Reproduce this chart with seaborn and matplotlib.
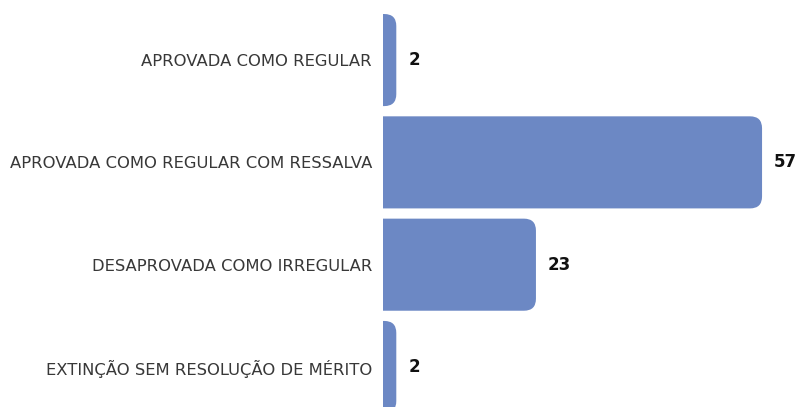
import matplotlib
matplotlib.use("Agg")
import matplotlib.pyplot as plt
import seaborn as sns
import pandas as pd
from matplotlib.patches import FancyBboxPatch

categories = [
    "APROVADA COMO REGULAR",
    "APROVADA COMO REGULAR COM RESSALVA",
    "DESAPROVADA COMO IRREGULAR",
    "EXTINÇÃO SEM RESOLUÇÃO DE MÉRITO",
]
values = [2, 57, 23, 2]

bar_color = "#6C88C4"

sns.set_theme(style="white")
plt.rcParams['font.family'] = ['DejaVu Sans']

W, H = 796, 407
fig = plt.figure(figsize=(W / 100, H / 100), dpi=100)
ax_left, ax_right = 383, 782
ax = fig.add_axes([ax_left / W, 0, (ax_right - ax_left) / W, 1])

df = pd.DataFrame({"cat": categories, "val": values})
sns.barplot(data=df, x="val", y="cat", orient="h", color=bar_color,
            saturation=1, width=0.9, ax=ax)

xmax = 60
ylim = (3.391, -0.587)
ax.set_xlim(0, xmax)
ax.set_ylim(*ylim)

px_x = (ax_right - ax_left) / xmax
px_y = H / (ylim[0] - ylim[1])
radius_px = 12
rx = radius_px / px_x
ry = radius_px / px_y

for p in list(ax.patches):
    x0, y0, w, h = p.get_x(), p.get_y(), p.get_width(), p.get_height()
    ext = 4
    fb = FancyBboxPatch((x0 - ext, y0), w + ext, h,
                        boxstyle=f"round,pad=0,rounding_size={rx}",
                        mutation_aspect=ry / rx,
                        facecolor=bar_color, edgecolor="none")
    ax.add_patch(fb)
    p.remove()

for i, v in enumerate(values):
    ax.text(v + 12 / px_x, i, str(v), va="center", ha="left",
            fontsize=12, fontweight="bold", color="#111111", clip_on=False)

ax.set_xlabel("")
ax.set_ylabel("")
ax.set_xticks([])
ax.tick_params(axis="y", length=0, pad=8, labelsize=11.8, labelcolor="#383838")
sns.despine(ax=ax, left=True, bottom=True)

fig.savefig("out.png", dpi=100, facecolor="white")
